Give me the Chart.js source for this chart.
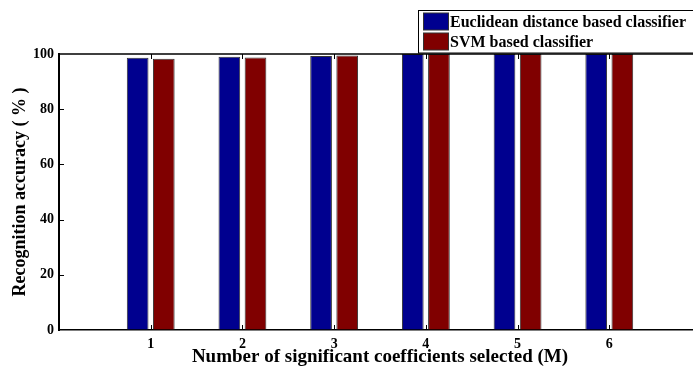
<!DOCTYPE html>
<html>
<head>
<meta charset="utf-8">
<script src="https://cdn.jsdelivr.net/npm/chart.js@4/dist/chart.umd.min.js"></script>
<style>
  html, body { margin: 0; padding: 0; background: #fff; overflow: hidden; }
  #wrap { width: 701px; height: 367px; }
</style>
</head>
<body>
<div id="wrap"><canvas id="chart" width="701" height="367"></canvas></div>
<script>
// values
const categories = [1, 2, 3, 4, 5, 6];
const euclidean = [98.6, 99.0, 99.3, 100, 100, 100];
const svm = [98.3, 98.7, 99.5, 100, 100, 100];
const yTicks = [0, 20, 40, 60, 80, 100];
const seriesNames = ['Euclidean distance based classifier', 'SVM based classifier'];

const serif = "'Liberation Serif', 'Times New Roman', serif";

// matlab style: ticks point inwards, box line on top
const boxPlugin = {
  id: 'box',
  afterDatasetsDraw(chart) {
    const ctx = chart.ctx;
    const a = chart.chartArea;
    const x = chart.scales.x, y = chart.scales.y;
    ctx.save();
    ctx.strokeStyle = '#000';
    ctx.lineWidth = 1.5;
    ctx.beginPath();
    ctx.moveTo(a.left, a.top);
    ctx.lineTo(a.right, a.top);
    ctx.moveTo(a.right, a.top);
    ctx.lineTo(a.right, a.bottom);
    ctx.stroke();
    ctx.lineWidth = 1;
    ctx.beginPath();
    yTicks.forEach(v => {
      if (v === 0 || v === 100) return;
      const py = Math.round(y.getPixelForValue(v)) + 0.5;
      ctx.moveTo(a.left, py); ctx.lineTo(a.left + 5, py);
      ctx.moveTo(a.right, py); ctx.lineTo(a.right - 5, py);
    });
    categories.forEach(c => {
      const px = Math.round(x.getPixelForValue(c)) + 0.5;
      ctx.moveTo(px, a.bottom); ctx.lineTo(px, a.bottom - 5);
      ctx.moveTo(px, a.top); ctx.lineTo(px, a.top + 5);
    });
    ctx.stroke();
    ctx.restore();
  },
  afterDraw(chart) {
    // legend box, drawn from the datasets
    const ctx = chart.ctx;
    const left = 418.5, top = 10.5, right = 705, rowH = 20;
    ctx.save();
    ctx.fillStyle = '#fff';
    ctx.fillRect(left, top, right - left, 42.5);
    ctx.strokeStyle = '#000';
    ctx.lineWidth = 1;
    ctx.strokeRect(left, top, right - left, 42.5);
    ctx.font = 'bold 16px ' + serif;
    ctx.textBaseline = 'middle';
    chart.data.datasets.forEach((ds, i) => {
      const yy = top + 2.5 + i * rowH;
      ctx.fillStyle = ds.backgroundColor;
      ctx.fillRect(423.5, yy, 25, 17);
      ctx.strokeStyle = '#333';
      ctx.strokeRect(423.5, yy, 25, 17);
      ctx.fillStyle = '#000';
      ctx.fillText(ds.label, 450, yy + 9.5);
    });
    ctx.restore();
  }
};

new Chart(document.getElementById('chart'), {
  type: 'bar',
  data: {
    datasets: [
      {
        label: seriesNames[0],
        data: categories.map((c, i) => ({ x: c, y: euclidean[i] })),
        backgroundColor: '#00008F',
        borderColor: '#333',
        borderWidth: 1
      },
      {
        label: seriesNames[1],
        data: categories.map((c, i) => ({ x: c, y: svm[i] })),
        backgroundColor: '#800000',
        borderColor: '#333',
        borderWidth: 1
      }
    ]
  },
  options: {
    responsive: false,
    animation: false,
    categoryPercentage: 0.57,
    barPercentage: 0.83,
    layout: { padding: { left: 0, top: 54, right: 0, bottom: 0 } },
    plugins: {
      legend: { display: false },
      tooltip: { enabled: false }
    },
    scales: {
      x: {
        type: 'linear',
        min: 0,
        max: 7,
        offset: false,
        afterFit: s => { s.height = 37; },
        afterBuildTicks: s => { s.ticks = categories.map(v => ({ value: v })); },
        grid: { display: true, offset: false, drawOnChartArea: false, drawTicks: false },
        border: { display: true, color: '#000', width: 1.5 },
        ticks: {
          color: '#000',
          padding: 6,
          font: { family: serif, size: 14, weight: 'bold' }
        },
        title: {
          display: true,
          text: 'Number of significant coefficients selected (M)',
          color: '#000',
          padding: { top: 0, bottom: 0 },
          font: { family: serif, size: 19, weight: 'bold', lineHeight: 1 }
        }
      },
      y: {
        min: 0,
        max: 100,
        afterFit: s => { s.width = 59; },
        afterBuildTicks: s => { s.ticks = yTicks.map(v => ({ value: v })); },
        grid: { display: true, drawOnChartArea: false, drawTicks: false },
        border: { display: true, color: '#000', width: 2 },
        ticks: {
          color: '#000',
          padding: 5,
          font: { family: serif, size: 14, weight: 'bold' }
        },
        title: {
          display: true,
          text: 'Recognition accuracy ( % )',
          color: '#000',
          padding: { top: 10, bottom: 0 },
          font: { family: serif, size: 18, weight: 'bold', lineHeight: 1.2 }
        }
      }
    }
  },
  plugins: [boxPlugin]
});
</script>
</body>
</html>
